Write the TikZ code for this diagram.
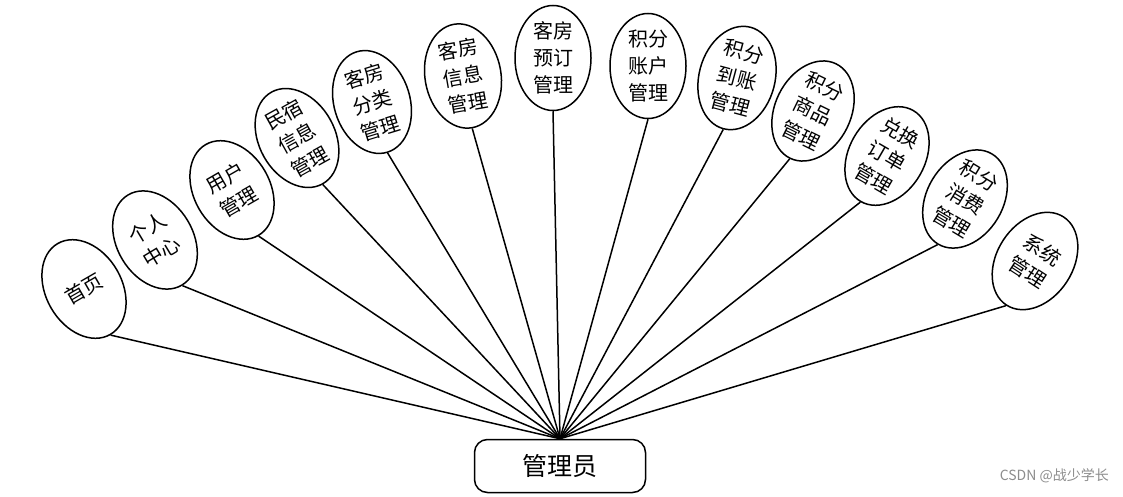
\documentclass[tikz,border=0pt]{standalone}
\usepackage{fontspec}
\setmainfont{Noto Sans CJK SC}
\usetikzlibrary{shapes.geometric}
\tikzset{
  x=1pt,y=1pt,
  ell/.style={ellipse, draw=black, line width=1.5pt, fill=white, minimum width=76pt, minimum height=105pt, inner sep=0pt},
  txt/.style={align=center, font=\fontsize{20}{27}\selectfont, inner sep=0pt},
  conn/.style={draw=black, line width=1.5pt},
  rootbox/.style={draw=black, line width=1.5pt, rounded corners=13pt, minimum width=171pt, minimum height=53pt, font=\fontsize{25}{30}\selectfont, inner sep=0pt, fill=white},
  wm/.style={text=black!45, font=\fontsize{14}{16}\selectfont, inner sep=0pt}
}
\begin{document}
\begin{tikzpicture}
\useasboundingbox (0,0) rectangle (1123,496);
\node[rootbox] (root) at (560,30) {管理员};
\foreach \n/\x/\y/\r/\t in {
  e1/84/207/30/{首页},
  e2/155/256/31/{个人\\中心},
  e3/232/306/30/{用户\\管理},
  e4/297/358/29/{民宿\\信息\\管理},
  e5/372/394/17/{客房\\分类\\管理},
  e6/463/420/10/{客房\\信息\\管理},
  e7/553/438/0/{客房\\预订\\管理},
  e8/648/430/0/{积分\\账户\\管理},
  e9/737/418/-15/{积分\\到账\\管理},
  e10/813/385/-26/{积分\\商品\\管理},
  e11/887/340/-30/{兑换\\订单\\管理},
  e12/965/297/-31/{积分\\消费\\管理},
  e13/1035/235/-33/{系统\\管理}}
{
  \node[ell, rotate=\r] (\n) at (\x,\y) {};
  \node[txt, rotate=\r] at (\n.center) {\t};
}
\foreach \n in {e1,e2,e3,e4,e5,e6,e7,e8,e9,e10,e11,e12,e13}
  \draw[conn] (\n.south) -- (root.north);
\node[wm, anchor=east] (wmark) at (1109,20) {CSDN @战少学长};
\end{tikzpicture}
\end{document}
